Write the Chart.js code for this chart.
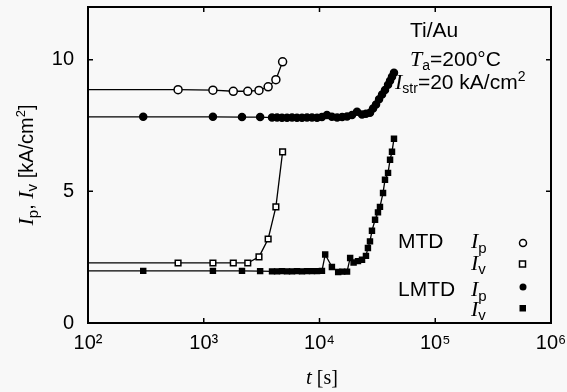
<!DOCTYPE html>
<html>
<head>
<meta charset="utf-8">
<script src="https://cdn.jsdelivr.net/npm/chart.js@4"></script>
<style>
  html, body { margin: 0; padding: 0; background: #f8f8f8; }
  #wrap { width: 567px; height: 392px; }
</style>
</head>
<body>
<div id="wrap"><canvas id="grafico" width="567" height="392"></canvas></div>
<script>
// tick labels
const xDecadas = [2, 3, 4, 5, 6];
const yTicks = [0, 5, 10];

// MTD, open symbols
const mtdIpT = [100, 600, 1200, 1800, 2400, 3000, 3600, 4200, 4800];
const mtdIpV = [8.86, 8.86, 8.84, 8.8, 8.8, 8.83, 8.97, 9.24, 9.92];
const mtdIvT = [100, 600, 1200, 1800, 2400, 3000, 3600, 4200, 4800];
const mtdIvV = [2.28, 2.28, 2.28, 2.28, 2.28, 2.51, 3.19, 4.41, 6.5];

// LMTD, filled symbols
const lmtdIpT = [100, 300, 1200, 2140, 3070, 3890, 4300, 4740, 5240, 5790, 6390, 7060, 7800, 8610,
  9520, 10500, 11600, 12800, 14200, 15700, 17300, 19100, 21100, 23300, 25200, 27300, 29000,
  30800, 32700, 34700, 36800, 39100, 40700, 42300, 44000];
const lmtdIpV = [7.83, 7.83, 7.83, 7.82, 7.82, 7.8, 7.8, 7.79, 7.79, 7.8, 7.79, 7.79, 7.8, 7.8,
  7.79, 7.82, 7.9, 7.83, 7.8, 7.82, 7.84, 7.9, 8.02, 7.92, 7.95, 7.98, 8.15,
  8.3, 8.5, 8.68, 8.85, 9.05, 9.2, 9.35, 9.5];
const lmtdIvT = [100, 300, 1200, 2140, 3070, 3890, 4300, 4740, 5240, 5790, 6390, 7060, 7800, 8610,
  9520, 10500, 11200, 12800, 14500, 15700, 17300, 18400, 19700, 21500, 23300, 25200, 26200,
  27300, 28400, 30200, 32000, 33300, 35400, 36800, 39100, 40700, 42300, 44000];
const lmtdIvV = [1.98, 1.98, 1.98, 1.98, 1.97, 1.96, 1.96, 1.97, 1.96, 1.96, 1.97, 1.96, 1.97, 1.97,
  1.97, 1.98, 2.6, 2.13, 1.94, 1.95, 1.95, 2.47, 2.3, 2.35, 2.4, 2.55, 2.85,
  3.1, 3.5, 3.92, 4.2, 4.41, 4.94, 5.44, 5.7, 6.2, 6.5, 7.0];

const SANS = '"Liberation Sans", Arial, sans-serif';
const SERIF = '"Liberation Serif", "Times New Roman", serif';
const sup = { 2: '\u00b2', 3: '\u00b3', 4: '\u2074', 5: '\u2075', 6: '\u2076' };

const pontos = (ts, vs) => ts.map((t, i) => ({ x: t, y: vs[i] }));
const semPrimeiro = (r) => (c) => c.dataIndex === 0 ? 0 : r;

function serie(label, ts, vs, estilo, raio, cheio) {
  return {
    label: label,
    data: pontos(ts, vs),
    borderColor: '#000',
    borderWidth: 1.3,
    pointStyle: estilo,
    pointRadius: semPrimeiro(raio),
    pointBorderWidth: 1.5,
    pointBorderColor: '#000',
    pointBackgroundColor: cheio ? '#000' : '#fff',
    tension: 0,
    fill: false
  };
}

// draws a run of text pieces with different fonts / offsets
function rico(ctx, partes, x, y, alinhar) {
  let w = 0;
  partes.forEach(p => { ctx.font = p.f; w += ctx.measureText(p.s).width; });
  let cx = alinhar === 'center' ? x - w / 2 : x;
  partes.forEach(p => {
    ctx.font = p.f;
    ctx.fillText(p.s, cx, y + (p.dy || 0));
    cx += ctx.measureText(p.s).width;
  });
}

const fS = (n) => n + 'px ' + SANS;
const fI = (n) => 'italic ' + n + 'px ' + SERIF;

const semPadding = (s) => {
  s.paddingTop = 0; s.paddingBottom = 0; s.paddingLeft = 0; s.paddingRight = 0;
};

const moldura = {
  id: 'moldura',
  afterDraw(chart) {
    const ctx = chart.ctx;
    const a = chart.chartArea;
    const sx = chart.scales.x, sy = chart.scales.y;
    ctx.save();
    ctx.strokeStyle = '#000';
    ctx.fillStyle = '#000';
    ctx.lineWidth = 2;
    ctx.strokeRect(a.left, a.top, a.right - a.left, a.bottom - a.top);
    ctx.lineWidth = 1.5;
    ctx.beginPath();
    xDecadas.forEach(e => {
      const px = sx.getPixelForValue(Math.pow(10, e));
      ctx.moveTo(px, a.bottom); ctx.lineTo(px, a.bottom - 5);
      ctx.moveTo(px, a.top); ctx.lineTo(px, a.top + 5);
    });
    yTicks.forEach(v => {
      const py = sy.getPixelForValue(v);
      ctx.moveTo(a.left, py); ctx.lineTo(a.left + 5, py);
      ctx.moveTo(a.right, py); ctx.lineTo(a.right - 5, py);
    });
    ctx.stroke();

    ctx.textBaseline = 'alphabetic';
    ctx.textAlign = 'left';
    // conditions
    rico(ctx, [{ s: 'Ti/Au', f: fS(21) }], 410, 37);
    rico(ctx, [{ s: 'T', f: fI(22) }, { s: 'a', f: fS(14), dy: 4 }, { s: '=200\u00b0C', f: fS(21) }], 410, 66);
    rico(ctx, [{ s: 'I', f: fI(22) }, { s: 'str', f: fS(14), dy: 4 }, { s: '=20 kA/cm', f: fS(21) },
      { s: '2', f: fS(14), dy: -8 }], 395, 89);

    // legend
    rico(ctx, [{ s: 'MTD', f: fS(21) }], 398, 248);
    rico(ctx, [{ s: 'I', f: fI(22) }, { s: 'p', f: fS(15), dy: 5 }], 471, 248);
    rico(ctx, [{ s: 'I', f: fI(22) }, { s: 'v', f: fS(15), dy: 4 }], 471, 270);
    rico(ctx, [{ s: 'LMTD', f: fS(21) }], 398, 296);
    rico(ctx, [{ s: 'I', f: fI(22) }, { s: 'p', f: fS(15), dy: 5 }], 471, 296);
    rico(ctx, [{ s: 'I', f: fI(22) }, { s: 'v', f: fS(15), dy: 4 }], 471, 316);

    ctx.lineWidth = 1.5;
    ctx.beginPath(); ctx.arc(523, 243, 3.5, 0, Math.PI * 2);
    ctx.fillStyle = '#fff'; ctx.fill(); ctx.stroke();
    ctx.fillStyle = '#fff';
    ctx.fillRect(519.5, 261, 6, 6); ctx.strokeRect(519.5, 261, 6, 6);
    ctx.fillStyle = '#000';
    ctx.beginPath(); ctx.arc(523, 287, 3.5, 0, Math.PI * 2); ctx.fill();
    ctx.fillRect(519.5, 305, 6.5, 6.5);

    // axis titles
    rico(ctx, [{ s: 't', f: fI(21) }, { s: ' [s]', f: '20px ' + SERIF }], 322, 384, 'center');
    ctx.translate(33, 165);
    ctx.rotate(-Math.PI / 2);
    rico(ctx, [{ s: 'I', f: fI(22) }, { s: 'p', f: fS(15), dy: 5 }, { s: ', ', f: fS(20) },
      { s: 'I', f: fI(22) }, { s: 'v', f: fS(15), dy: 4 }, { s: ' [kA/cm', f: fS(20) },
      { s: '2', f: fS(13), dy: -8 }, { s: ']', f: fS(20) }], 0, 0, 'center');
    ctx.restore();
  }
};

new Chart(document.getElementById('grafico').getContext('2d'), {
  type: 'line',
  data: {
    datasets: [
      serie('MTD Ip', mtdIpT, mtdIpV, 'circle', 4, false),
      serie('MTD Iv', mtdIvT, mtdIvV, 'rect', 4, false),
      serie('LMTD Ip', lmtdIpT, lmtdIpV, 'circle', 3.5, true),
      serie('LMTD Iv', lmtdIvT, lmtdIvV, 'rect', 3.5, true)
    ]
  },
  options: {
    responsive: false,
    animation: false,
    layout: { padding: { top: 7, right: 16, left: 0, bottom: 0 } },
    plugins: { legend: { display: false }, tooltip: { enabled: false } },
    scales: {
      x: {
        type: 'logarithmic',
        min: 100,
        max: 1000000,
        afterBuildTicks: (s) => { s.ticks = xDecadas.map(e => ({ value: Math.pow(10, e) })); },
        afterFit: (s) => { s.height = 69; semPadding(s); },
        grid: { display: false, drawTicks: false },
        border: { display: false },
        ticks: {
          color: '#000',
          font: { family: SANS, size: 20 },
          padding: 8,
          maxRotation: 0,
          autoSkip: false,
          callback: (v) => '10' + sup[Math.round(Math.log10(v))]
        }
      },
      y: {
        min: 0,
        max: 12,
        afterBuildTicks: (s) => { s.ticks = yTicks.map(v => ({ value: v })); },
        afterFit: (s) => { s.width = 88; semPadding(s); },
        grid: { display: false, drawTicks: false },
        border: { display: false },
        ticks: {
          color: '#000',
          font: { family: SANS, size: 20 },
          padding: 14
        }
      }
    }
  },
  plugins: [moldura]
});
</script>
</body>
</html>
